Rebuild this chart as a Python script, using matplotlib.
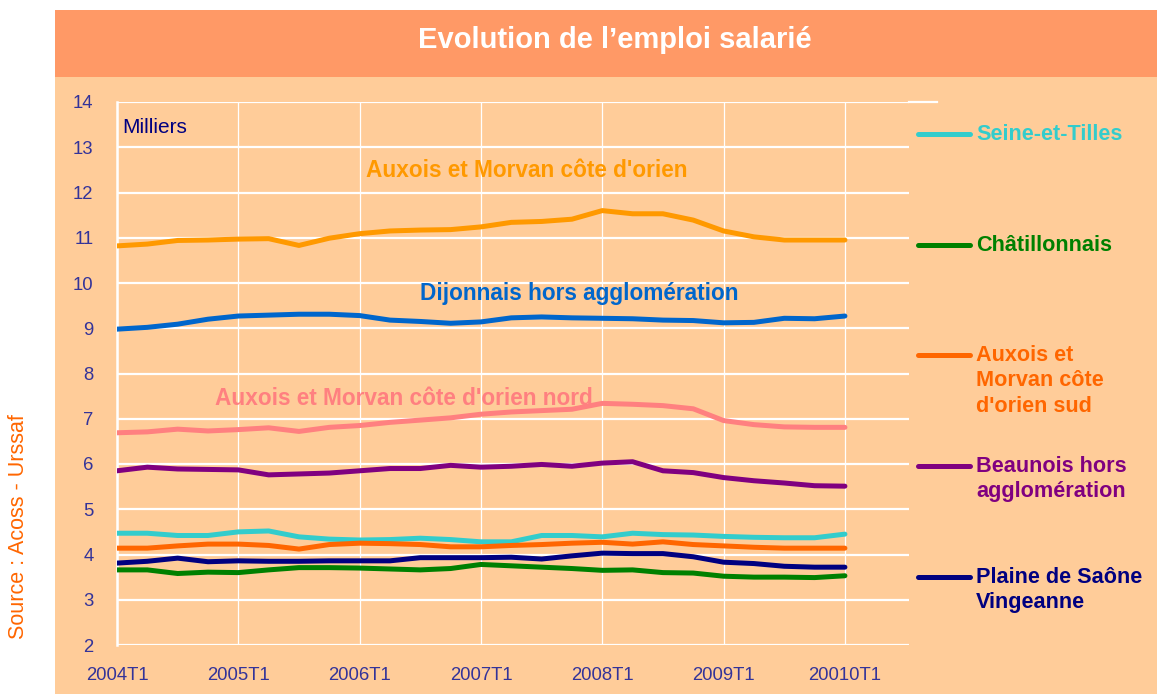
import matplotlib
matplotlib.use("Agg")
import matplotlib.pyplot as plt
from matplotlib.lines import Line2D
from matplotlib.patches import Rectangle

plt.rcParams['font.family'] = ['Liberation Sans', 'DejaVu Sans']

# ---------------- data ----------------
quarters = list(range(25))  # 2004T1 .. 2010T1
year_ticks = [0, 4, 8, 12, 16, 20, 24]
year_labels = ["2004T1", "2005T1", "2006T1", "2007T1", "2008T1", "2009T1", "20010T1"]

auxois_orien = [10.82, 10.86, 10.94, 10.95, 10.97, 10.98, 10.83, 10.99, 11.09, 11.15, 11.17, 11.18, 11.24,
                11.34, 11.36, 11.41, 11.60, 11.53, 11.53, 11.39, 11.15, 11.02, 10.95, 10.95, 10.95]
dijonnais = [8.98, 9.02, 9.09, 9.20, 9.27, 9.29, 9.31, 9.31, 9.28, 9.18, 9.15, 9.11, 9.14,
             9.23, 9.25, 9.23, 9.22, 9.21, 9.18, 9.17, 9.12, 9.13, 9.22, 9.21, 9.27]
auxois_nord = [6.69, 6.71, 6.77, 6.73, 6.76, 6.80, 6.72, 6.81, 6.85, 6.92, 6.97, 7.02, 7.10,
               7.15, 7.18, 7.21, 7.34, 7.32, 7.29, 7.22, 6.96, 6.87, 6.82, 6.81, 6.81]
beaunois = [5.85, 5.93, 5.89, 5.88, 5.87, 5.76, 5.78, 5.80, 5.85, 5.90, 5.90, 5.97, 5.93,
            5.95, 5.99, 5.95, 6.02, 6.05, 5.85, 5.81, 5.70, 5.63, 5.58, 5.52, 5.51]
seine_tilles = [4.47, 4.47, 4.42, 4.42, 4.50, 4.52, 4.39, 4.34, 4.32, 4.33, 4.36, 4.33, 4.28,
                4.28, 4.42, 4.42, 4.39, 4.47, 4.44, 4.43, 4.40, 4.38, 4.37, 4.37, 4.45]
auxois_sud = [4.14, 4.14, 4.19, 4.23, 4.23, 4.20, 4.12, 4.22, 4.25, 4.24, 4.22, 4.17, 4.17,
              4.20, 4.22, 4.25, 4.27, 4.23, 4.28, 4.22, 4.19, 4.16, 4.14, 4.14, 4.14]
plaine_saone = [3.81, 3.85, 3.92, 3.84, 3.86, 3.85, 3.85, 3.86, 3.86, 3.86, 3.93, 3.93, 3.93,
                3.94, 3.90, 3.97, 4.03, 4.02, 4.02, 3.95, 3.83, 3.80, 3.74, 3.72, 3.72]
chatillonnais = [3.66, 3.66, 3.58, 3.61, 3.60, 3.66, 3.71, 3.71, 3.70, 3.68, 3.66, 3.69, 3.78,
                 3.75, 3.72, 3.69, 3.65, 3.66, 3.60, 3.59, 3.52, 3.50, 3.50, 3.49, 3.53]

series = [
    ("Auxois et Morvan côte d'orien", auxois_orien, "#FF9900"),
    ("Dijonnais hors agglomération", dijonnais, "#0066CC"),
    ("Auxois et Morvan côte d'orien nord", auxois_nord, "#FF8080"),
    ("Beaunois hors\nagglomération", beaunois, "#800080"),
    ("Seine-et-Tilles", seine_tilles, "#33CCCC"),
    ("Auxois et\nMorvan côte\nd'orien sud", auxois_sud, "#FF6600"),
    ("Plaine de Saône\nVingeanne", plaine_saone, "#000080"),
    ("Châtillonnais", chatillonnais, "#008000"),
]

W, H = 1157, 694
fig = plt.figure(figsize=(W / 100, H / 100), dpi=100)
fig.patch.set_facecolor("white")

def fx(px):
    return px / W

def fy(py):
    return 1 - py / H

# panels
fig.add_artist(Rectangle((fx(55), 0), 1 - fx(55), fy(77), transform=fig.transFigure,
                         facecolor="#FFCC99", edgecolor="none", zorder=0))
fig.add_artist(Rectangle((fx(55), fy(77)), 1 - fx(55), fy(10) - fy(77), transform=fig.transFigure,
                         facecolor="#FF9966", edgecolor="none", zorder=0))
fig.text(fx(615), fy(40), "Evolution de l\u2019emploi salarié", color="white", fontsize=21,
         fontweight="bold", ha="center", va="center")

ax = fig.add_axes([fx(117), fy(645), fx(909) - fx(117), fy(102) - fy(645)])
ax.set_facecolor("#FFCC99")
ax.set_xlim(0, (909 - 117) / 30.33)
ax.set_ylim(2, 14)
ax.set_yticks(range(2, 15))
ax.set_xticks(year_ticks)
ax.set_xticklabels(year_labels)
ax.tick_params(axis="both", length=0, colors="#333399", labelsize=13.3)
ax.tick_params(axis="y", pad=17)
ax.tick_params(axis="x", pad=16)
for s in ["top", "right", "bottom"]:
    ax.spines[s].set_visible(False)
ax.spines["left"].set_color("white")
ax.spines["left"].set_linewidth(1.8)
ax.spines["left"].set_zorder(1)
for y in range(2, 15):
    ax.axhline(y, color="white", lw=1.6, zorder=1)
for x in year_ticks:
    ax.axvline(x, color="white", lw=0.9, zorder=1)

for name, vals, col in series:
    ax.plot(quarters, vals, color=col, lw=3.6, solid_capstyle="round", solid_joinstyle="round", zorder=3)

# top border extension
fig.add_artist(Line2D([fx(909), fx(937)], [fy(102), fy(102)], transform=fig.transFigure,
                      color="white", lw=1.6))

# inline labels
ax.text(13.52, 12.48, "Auxois et Morvan côte d'orien", color="#FF9900", fontsize=16.3,
        fontweight="bold", ha="center", va="center", zorder=4)
ax.text(15.23, 9.76, "Dijonnais hors agglomération", color="#0066CC", fontsize=16.3,
        fontweight="bold", ha="center", va="center", zorder=4)
ax.text(9.46, 7.44, "Auxois et Morvan côte d'orien nord", color="#FF8080", fontsize=16.3,
        fontweight="bold", ha="center", va="center", zorder=4)
ax.text(0.16, 13.43, "Milliers", color="#000080", fontsize=15, ha="left", va="center", zorder=4)

# right legend
legend_items = [
    ("Seine-et-Tilles", "#33CCCC", 134),
    ("Châtillonnais", "#008000", 245),
    ("Auxois et\nMorvan côte\nd'orien sud", "#FF6600", 355),
    ("Beaunois hors\nagglomération", "#800080", 466),
    ("Plaine de Saône\nVingeanne", "#000080", 577),
]
for label, col, py in legend_items:
    fig.add_artist(Line2D([fx(918), fx(970)], [fy(py), fy(py)], transform=fig.transFigure,
                          color=col, lw=3.6, solid_capstyle="round"))
    fig.text(fx(976), fy(py - 10), label, color=col, fontsize=15.6, fontweight="bold",
             ha="left", va="top", linespacing=1.27)

fig.text(fx(19), fy(527), "Source : Acoss - Urssaf", color="#FF6600", fontsize=15.5,
         rotation=90, ha="center", va="center")

fig.savefig("out.png", dpi=100, facecolor="white")
